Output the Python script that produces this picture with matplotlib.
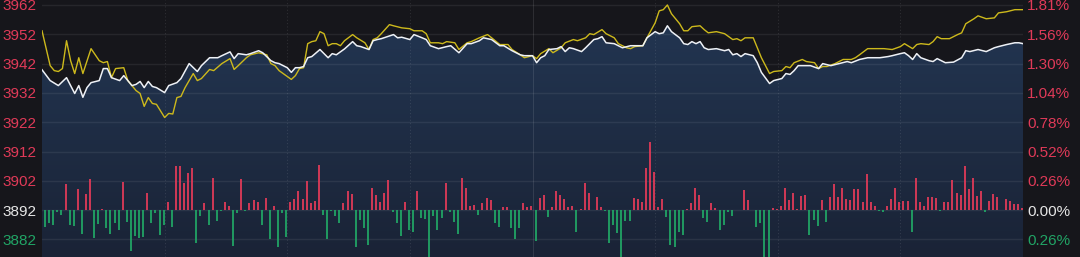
import numpy as np
import matplotlib
matplotlib.use("Agg")
import matplotlib.pyplot as plt
from matplotlib.patches import Polygon
from matplotlib.colors import LinearSegmentedColormap

# index line (white), minute -> points
white_min = [0, 2, 4, 6, 8, 9, 10, 11, 12, 14, 15, 16, 17, 19, 20, 22, 23, 24, 25, 26,
             27, 28, 30, 31, 33, 34, 36, 38, 39, 41, 42, 43, 44, 46, 47, 48, 50, 51, 53, 54,
             56, 57, 58, 60, 61, 62, 63, 64, 65, 66, 68, 70, 71, 72, 74, 76, 77, 78, 80, 81,
             82, 83, 86, 87, 88, 90, 91, 93, 94, 95, 97, 99, 100, 102, 104, 105, 107, 108, 110, 112,
             113, 115, 117, 118, 120, 121, 122, 123, 124, 126, 127, 128, 129, 130, 132, 133, 135, 136, 137, 138,
             140, 142, 144, 147, 148, 150, 151, 152, 153, 154, 156, 157, 158, 159, 160, 161, 162, 163, 165, 167,
             168, 169, 170, 171, 172, 174, 175, 176, 178, 179, 181, 182, 183, 184, 185, 188, 190, 191, 193, 195,
             197, 198, 200, 202, 203, 205, 207, 208, 210, 211, 212, 213, 214, 215, 217, 218, 219, 221, 223, 225,
             226, 227, 229, 231, 233, 234, 236, 238, 239, 240]
white_val = [3939.9, 3936.2, 3934.5, 3937.2, 3931.8, 3934.5, 3930.5, 3933.8, 3935.5, 3936.2,
             3940.3, 3940.3, 3937.2, 3936.2, 3937.9, 3934.5, 3934.9, 3935.9, 3933.8, 3935.9,
             3934.2, 3933.8, 3932.1, 3934.5, 3935.5, 3936.9, 3942.0, 3939.3, 3941.3, 3944.0,
             3944.0, 3944.0, 3944.7, 3946.0, 3943.7, 3945.4, 3945.0, 3945.4, 3946.4, 3945.7,
             3943.0, 3942.3, 3942.0, 3940.6, 3939.0, 3940.6, 3940.6, 3941.0, 3944.0, 3944.4,
             3946.8, 3944.0, 3945.4, 3945.0, 3947.0, 3949.5, 3948.1, 3947.8, 3946.8, 3949.8,
             3950.2, 3950.5, 3951.9, 3950.8, 3951.0, 3950.2, 3951.9, 3950.8, 3950.2, 3948.1,
             3947.1, 3947.8, 3948.1, 3945.7, 3948.8, 3948.8, 3949.8, 3950.8, 3950.2, 3948.1,
             3948.1, 3946.4, 3945.0, 3944.7, 3944.7, 3942.3, 3944.0, 3944.7, 3946.8, 3947.1,
             3947.8, 3946.1, 3947.4, 3947.1, 3946.1, 3947.4, 3950.2, 3950.5, 3951.2, 3949.1,
             3948.8, 3947.4, 3948.1, 3948.1, 3950.8, 3952.9, 3952.2, 3952.5, 3954.9, 3952.9,
             3950.8, 3948.8, 3948.5, 3949.5, 3948.8, 3949.5, 3947.4, 3946.8, 3947.1, 3946.4,
             3946.8, 3945.0, 3945.4, 3944.4, 3945.4, 3944.7, 3942.3, 3939.0, 3935.2, 3936.2,
             3936.9, 3938.6, 3938.3, 3939.6, 3941.3, 3941.3, 3940.3, 3942.0, 3941.3, 3942.0,
             3942.7, 3942.3, 3943.4, 3944.0, 3944.0, 3944.0, 3944.4, 3944.7, 3945.4, 3945.7,
             3944.7, 3943.4, 3945.4, 3944.0, 3943.0, 3942.7, 3943.7, 3942.3, 3942.5, 3944.0,
             3946.4, 3946.1, 3946.8, 3946.1, 3947.4, 3947.8, 3948.5, 3949.1, 3949.1, 3948.8]

# second line (yellow)
yellow_min = [0, 2, 3, 4, 5, 6, 7, 8, 9, 10, 12, 14, 15, 16, 17, 18, 20, 21, 23, 24,
              25, 26, 27, 28, 30, 31, 32, 33, 34, 35, 37, 38, 39, 41, 42, 44, 46, 47, 48, 50,
              51, 53, 55, 56, 57, 58, 60, 61, 62, 63, 64, 65, 66, 67, 68, 69, 70, 71, 72, 73,
              74, 76, 77, 79, 80, 81, 82, 83, 85, 86, 88, 90, 91, 93, 94, 95, 97, 98, 99, 101,
              102, 104, 105, 107, 109, 110, 112, 114, 115, 117, 118, 120, 121, 122, 124, 125, 127, 128, 130, 131,
              133, 134, 135, 137, 138, 140, 141, 143, 144, 145, 147, 148, 150, 151, 152, 153, 154, 156, 157, 158,
              159, 161, 162, 163, 165, 167, 169, 170, 171, 172, 174, 175, 176, 178, 179, 181, 182, 183, 184, 186,
              187, 189, 190, 191, 192, 194, 196, 198, 199, 200, 202, 203, 205, 206, 208, 210, 211, 213, 214, 215,
              217, 218, 219, 220, 222, 224, 225, 226, 228, 229, 231, 233, 234, 236, 238, 240]
yellow_val = [3953.2, 3941.3, 3939.6, 3939.3, 3940.3, 3949.8, 3943.0, 3938.6, 3944.0, 3938.6,
              3947.1, 3943.0, 3942.3, 3942.7, 3937.2, 3940.3, 3940.6, 3936.2, 3932.8, 3931.8,
              3927.4, 3930.4, 3928.4, 3928.1, 3923.6, 3925.0, 3924.8, 3930.4, 3930.8, 3933.8,
              3938.6, 3936.2, 3936.9, 3940.0, 3939.6, 3942.0, 3943.7, 3940.0, 3941.3, 3944.0,
              3945.0, 3945.7, 3945.0, 3942.0, 3941.3, 3939.6, 3937.6, 3936.6, 3937.9, 3940.3,
              3940.6, 3948.8, 3949.5, 3949.8, 3952.9, 3952.2, 3948.1, 3948.8, 3948.8, 3948.1,
              3949.8, 3951.9, 3950.8, 3949.1, 3946.8, 3950.2, 3950.8, 3952.2, 3955.3, 3954.9,
              3954.2, 3953.9, 3953.2, 3953.2, 3952.2, 3949.1, 3949.1, 3948.8, 3949.5, 3949.1,
              3946.8, 3949.1, 3949.5, 3950.8, 3951.9, 3950.8, 3948.5, 3948.5, 3946.8, 3945.0,
              3944.0, 3944.7, 3943.7, 3945.4, 3947.1, 3945.7, 3947.4, 3949.1, 3950.2, 3949.8,
              3950.8, 3952.2, 3951.9, 3953.6, 3952.2, 3950.8, 3948.8, 3947.4, 3947.1, 3947.8,
              3948.1, 3950.8, 3955.9, 3960.0, 3960.4, 3962.0, 3959.0, 3955.6, 3953.2, 3953.2,
              3954.6, 3954.9, 3953.6, 3952.5, 3952.9, 3952.2, 3950.2, 3950.5, 3949.8, 3950.8,
              3950.8, 3947.4, 3944.0, 3938.6, 3939.3, 3939.6, 3941.0, 3940.6, 3942.3, 3943.4,
              3942.7, 3942.3, 3940.3, 3941.0, 3941.0, 3942.0, 3943.4, 3943.4, 3944.0, 3945.0,
              3947.1, 3947.1, 3947.1, 3947.1, 3946.8, 3947.8, 3948.8, 3947.1, 3948.5, 3948.8,
              3948.5, 3949.5, 3951.2, 3950.5, 3950.5, 3951.9, 3952.5, 3955.6, 3957.3, 3958.3,
              3957.3, 3957.6, 3959.3, 3959.7, 3960.4, 3960.4]

# per-minute bars (arbitrary units, + red / - green)
flow = [-50, -40, -45, -7, -15, 78, -45, -47, 62, -73, 48, 92, -85, -43, 2, -53, -73, -40, -60, 83,
        -37, -123, -78, -85, -80, 50, -40, -10, -75, -45, 23, -52, 132, 132, 82, 112, 125, -100, -17, 20,
        -45, 97, -33, -2, 23, 13, -108, -10, 93, -3, 22, 30, 23, -45, 35, -87, 13, -110, -10, -80,
        23, 33, 58, 33, 87, 20, 27, 135, -15, -87, -2, -17, -38, 20, 58, 48, -110, -30,
        -55, -105, 67, 45, 23, 50, 90, -5, -38, -77, 23, -60, -65, 58, -23, -27, -143, -17, -60, -23,
        80, -7, -37, -72, 97, 65, 12, 15, -15, 20, 35, 30, -38, -52, 10, 10, -55, -87, -55, 20,
        10, 12, -92, 37, 45, -20, 8, 58, 45, 32, 8, 13, -65, 2, 80, 50, 0, 38, 8, -2,
        -100, -45, -68, -143, -33, -32, 35, 33, 23, 125, 205, 115, 10, 33, -20, -105, -110, -65, -75, 2,
        20, 65, 45, -23, -37, 20, 5, -60,
        -45, -5, -17, 0, 0, 60, 30, 0, -50, -40, -145, -145, 5, 3, 13, 67, 30, 50, 3, 42,
        45, -75, -30, -47, 30, -37, 38, 77, 38, 67, 32, 30, 62, 62, 23, 107, 23, 12, -3, -5,
        13, 32, 65, 23, 27, 27, -65, 97, 23, 13, 38, 38, 37, -3, 23, 23, 90, 50, 45, 132,
        62, 97, 42, 57, -7, 27, 47, 40, 0, 33, 27, 18, 17, 7]

base = 3892
price_ticks = [3962, 3952, 3942, 3932, 3922, 3912, 3902, 3892, 3882]
pct_labels = ["1.81%", "1.56%", "1.30%", "1.04%", "0.78%", "0.52%", "0.26%", "0.00%", "0.26%"]

RED = "#e03a58"
GREEN = "#21a465"
GREY = "#e6e6e6"
BG = "#16161b"
FLOW_SCALE = 1 / 8.8   # bar units -> index points

fig = plt.figure(figsize=(10.8, 2.57), dpi=100)
fig.patch.set_facecolor(BG)
ax = fig.add_axes([42 / 1080, 0, 981 / 1080, 1])
ax.set_facecolor(BG)
ylo, yhi = 3876.0, 3963.7
ax.set_xlim(0, 240)
ax.set_ylim(ylo, yhi)

# gradient area under the index line
verts = list(zip(white_min, white_val)) + [(240, ylo), (0, ylo)]
poly = Polygon(verts, closed=True, facecolor="none", edgecolor="none")
ax.add_patch(poly)
cmap = LinearSegmentedColormap.from_list("navy", ["#1a2336", "#223551"])
grad = np.linspace(0, 1, 256).reshape(-1, 1)
im = ax.imshow(grad, extent=[0, 240, ylo, 3956], origin="lower", aspect="auto",
               cmap=cmap, zorder=1)
im.set_clip_path(poly)

# grid
for t in price_ticks:
    ax.axhline(t, color="white", alpha=0.07, lw=1, zorder=2)
for m in [30, 60, 90, 150, 180, 210]:
    ax.axvline(m, color="white", alpha=0.10, lw=0.8, ls=(0, (1, 2)), zorder=2)
ax.axvline(120, color="white", alpha=0.10, lw=0.8, zorder=2)

# bars as thin vertical strokes from the 3892 baseline
fx = np.arange(len(flow)) + 0.75
fv = np.array(flow) * FLOW_SCALE
up = fv > 0
ax.vlines(fx[up], base, base + fv[up], color=RED, lw=1.3, zorder=3)
ax.vlines(fx[~up], base, base + fv[~up], color=GREEN, lw=1.3, zorder=3)

# lines
ax.plot(yellow_min, yellow_val, color="#cdb91c", lw=1.0, zorder=4)
ax.plot(white_min, white_val, color="#eef1f6", lw=1.1, zorder=5)

for s in ax.spines.values():
    s.set_visible(False)
ax.set_xticks([])

tick_cols = [RED] * 7 + [GREY, GREEN]
ax.set_yticks(price_ticks)
ax.set_yticklabels([str(t) for t in price_ticks], fontsize=11, family="Liberation Sans")
ax.tick_params(axis="y", length=0, pad=4)
for lab, c in zip(ax.get_yticklabels(), tick_cols):
    lab.set_color(c)

ax2 = ax.twinx()
ax2.set_ylim(ylo, yhi)
ax2.set_yticks(price_ticks)
ax2.set_yticklabels(pct_labels, fontsize=11, family="Liberation Sans")
ax2.tick_params(axis="y", length=0, pad=3)
for lab, c in zip(ax2.get_yticklabels(), tick_cols):
    lab.set_color(c)
for s in ax2.spines.values():
    s.set_visible(False)

fig.savefig("out.png", dpi=100, facecolor=BG)
